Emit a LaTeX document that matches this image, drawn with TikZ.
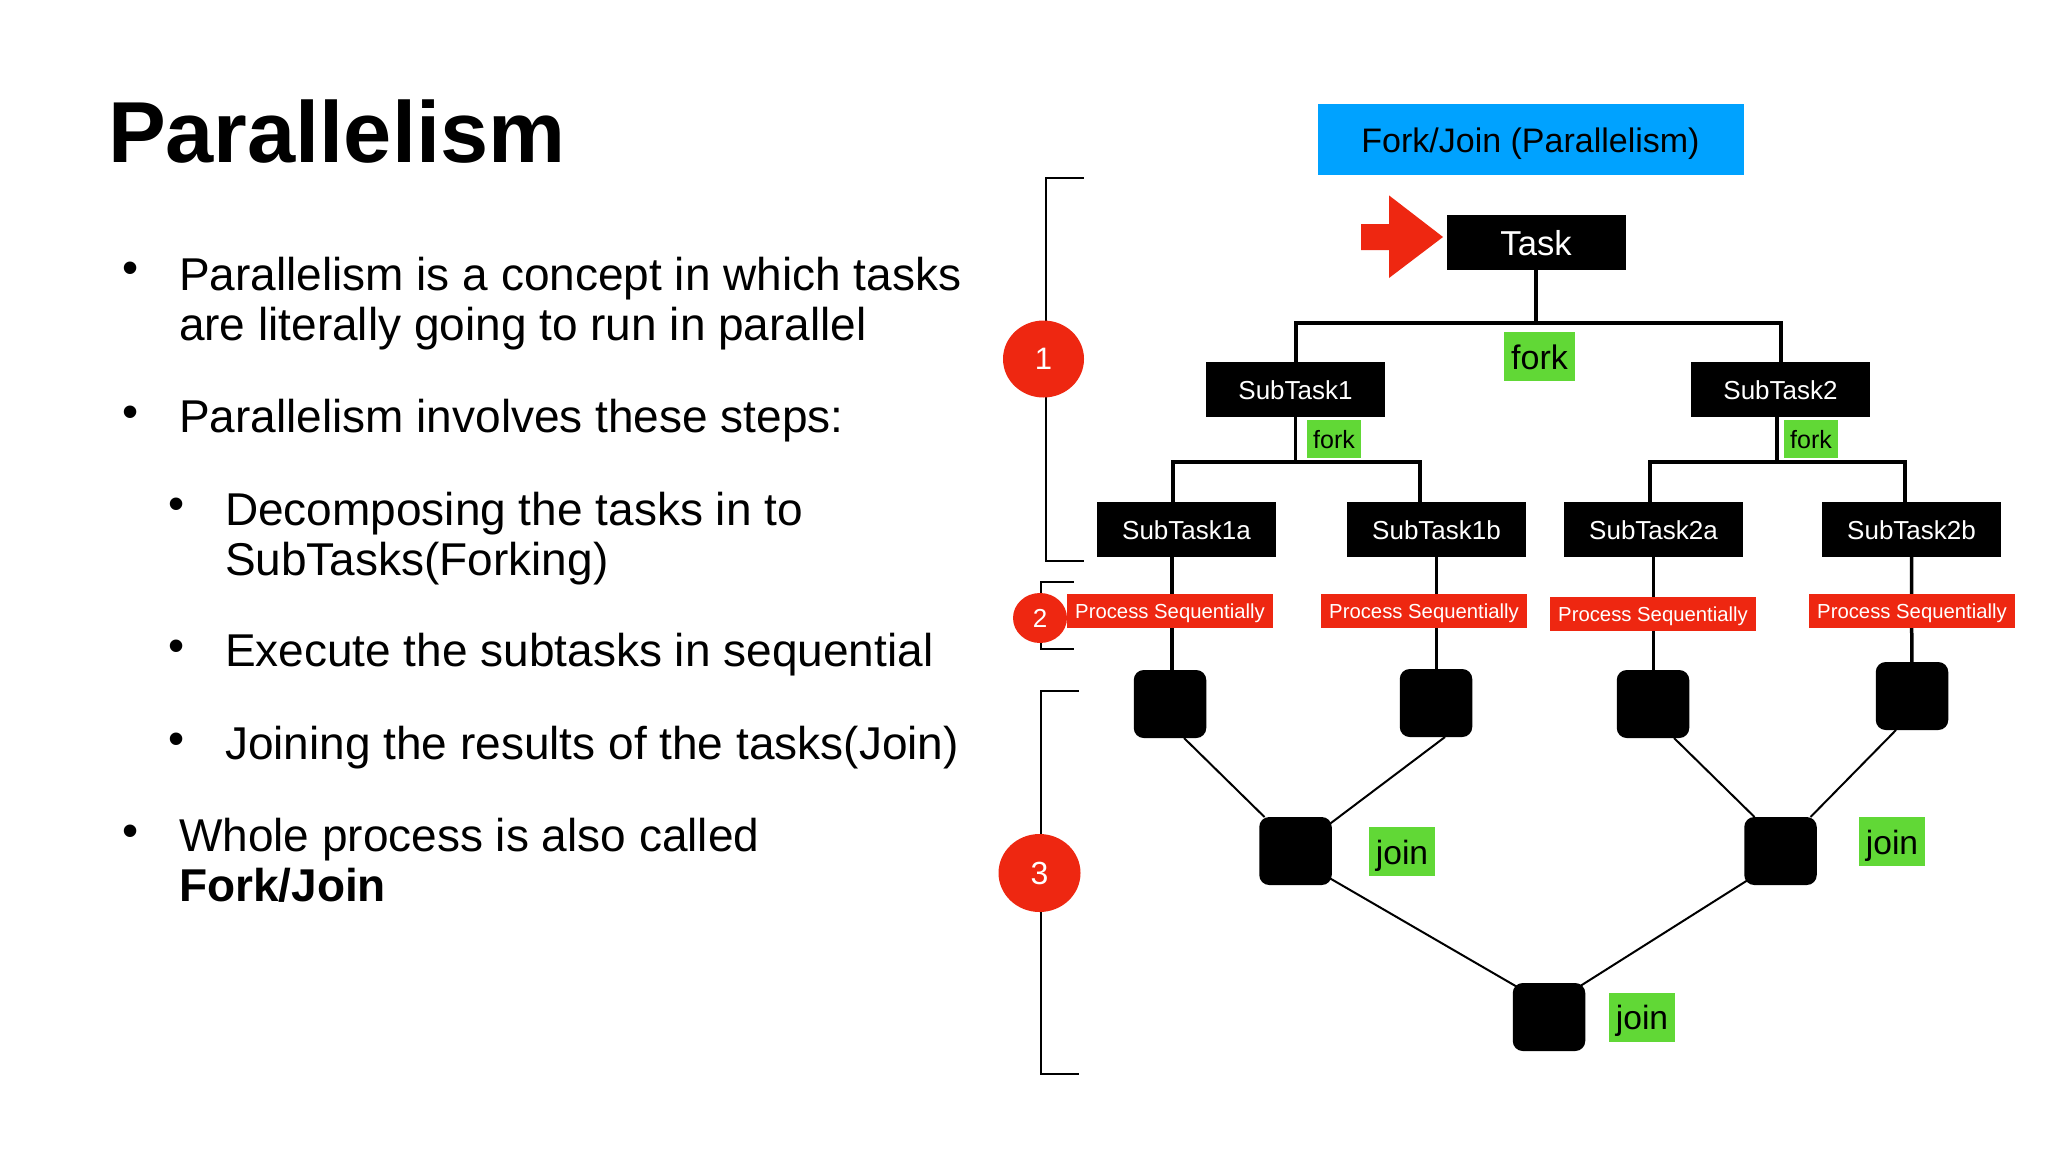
\documentclass[tikz,border=0pt]{standalone}
\usepackage{fontspec}
\setmainfont{Liberation Sans}
\usetikzlibrary{shapes.geometric}
\definecolor{kblue}{HTML}{00A2FF}
\definecolor{kgreen}{HTML}{61D836}
\definecolor{kred}{HTML}{EE2711}
\tikzset{
  every node/.style={inner sep=0pt,outer sep=0pt},
  labelbox/.style={text depth=0pt,align=center},
  taskbox/.style={labelbox,text height=10.1pt,fill=black,text=white,minimum width=89.5pt,minimum height=27.5pt,font=\fontsize{13}{15}\selectfont},
  procbox/.style={labelbox,text height=8.1pt,fill=kred,text=white,minimum width=103pt,minimum height=17pt,font=\fontsize{10.15}{12}\selectfont},
  workbox/.style={fill=black,rounded corners=5pt,minimum width=36.25pt,minimum height=34pt},
  joinbox/.style={labelbox,text height=12.6pt,fill=kgreen,minimum width=33pt,minimum height=24.5pt,font=\fontsize{16.8}{19}\selectfont},
  forkbox/.style={labelbox,text height=9.75pt,fill=kgreen,minimum width=27pt,minimum height=19pt,font=\fontsize{12.5}{15}\selectfont},
  bodytext/.style={anchor=base west,align=left,font=\fontsize{23}{25}\selectfont},
  bullettext/.style={anchor=base,font=\fontsize{23}{25}\selectfont},
  treeline/.style={line width=2pt},
  drop/.style={line width=1.75pt},
  merge/.style={line width=1pt},
  bracketline/.style={line width=1pt},
  numdisc/.style={ellipse,fill=kred,text=white,text depth=0pt},
}
\begin{document}
\begin{tikzpicture}[x=0.5pt,y=-0.5pt]
\useasboundingbox (0,0) rectangle (2048,1152);
\fill[white] (0,0) rectangle (2048,1152);

% Left column
\node[anchor=base west,font=\bfseries\fontsize{43.3}{46}\selectfont] (title) at (108,162) {Parallelism};
\node[bullettext] (b1) at (131,283.5) {•};
\node[bodytext] (t1) at (179,340.8) {Parallelism is a concept in which tasks\\are literally going to run in parallel};
\node[bullettext] (b2) at (131,427) {•};
\node[bodytext] (t2) at (179,432) {Parallelism involves these steps:};
\node[bullettext] (b3) at (177,519) {•};
\node[bodytext] (t3) at (225,575) {Decomposing the tasks in to\\SubTasks(Forking)};
\node[bullettext] (b4) at (177,661) {•};
\node[bodytext] (t4) at (225,666.5) {Execute the subtasks in sequential};
\node[bullettext] (b5) at (177,754) {•};
\node[bodytext] (t5) at (225,759.8) {Joining the results of the tasks(Join)};
\node[bullettext] (b6) at (131,846) {•};
\node[bodytext] (t6) at (179,901.2) {Whole process is also called\\\textbf{Fork/Join}};

% Brackets
\coordinate (b1a) at (1083.5,177.7);
\coordinate (b1b) at (1083.5,561);
\coordinate (b1s) at (1046,177.7);
\coordinate (b2a) at (1073.5,581.7);
\coordinate (b2b) at (1073.5,649.3);
\coordinate (b2s) at (1041.4,581.7);
\coordinate (b3a) at (1079,691.3);
\coordinate (b3b) at (1079,1074.3);
\coordinate (b3s) at (1041.4,691.3);
\draw[bracketline] (b1a) -- (b1s) |- (b1b);
\draw[bracketline] (b2a) -- (b2s) |- (b2b);
\draw[bracketline] (b3a) -- (b3s) |- (b3b);
\node[numdisc,text height=10.85pt,minimum width=40.5pt,minimum height=38.5pt,font=\fontsize{15.5}{18}\selectfont] (n1) at (1043.5,359) {1};
\node[numdisc,text height=9.1pt,minimum width=27pt,minimum height=25pt,font=\fontsize{13}{15}\selectfont] (n2) at (1040,618) {2};
\node[numdisc,text height=11.2pt,minimum width=41pt,minimum height=39pt,font=\fontsize{16}{18}\selectfont] (n3) at (1039.5,873) {3};

% Header
\node[labelbox,text height=12.9pt,fill=kblue,minimum width=213pt,minimum height=35.5pt,font=\fontsize{17}{19}\selectfont] (head) at (1530.5,139.5) {Fork/Join (Parallelism)};

% Tasks
\node[taskbox,text height=13.1pt,font=\fontsize{17.3}{19}\selectfont] (task) at (1536,242.5) {Task};
\node[taskbox] (s1) at (1295.5,389.5) {SubTask1};
\node[taskbox] (s2) at (1780.5,389.5) {SubTask2};
\node[taskbox] (s1a) at (1186.5,529.5) {SubTask1a};
\node[taskbox] (s1b) at (1436.5,529.5) {SubTask1b};
\node[taskbox] (s2a) at (1653.5,529.5) {SubTask2a};
\node[taskbox] (s2b) at (1911.5,529.5) {SubTask2b};

% Entry arrow
\fill[kred] (1361,224) -- (1389,224) -- (1389,195.4) -- (1443,237) -- (1389,278) -- (1389,250) -- (1361,250) -- cycle;

% Work boxes
\node[workbox] (w1) at (1170,704) {};
\node[workbox] (w2) at (1436,703) {};
\node[workbox] (w3) at (1653,704) {};
\node[workbox] (w4) at (1912,696) {};
\node[workbox] (m1) at (1295.5,851) {};
\node[workbox] (m2) at (1780.5,851) {};
\node[workbox] (m3) at (1549,1017) {};

% Fork tree
\coordinate (bus1) at (1536,323);
\coordinate (bus2) at (1295.5,462);
\coordinate (bus3) at (1777,462);
\draw[drop] (task.south) -- (bus1);
\draw[treeline] (s1.north) |- (bus1) -| (s2.north);
\draw[drop] (s1.south) -- (bus2);
\draw[drop] ([xshift=-1.75pt]s2.south) -- (bus3);
\draw[treeline] ([xshift=-6.75pt]s1a.north) |- (bus2) -| ([xshift=-8.25pt]s1b.north);
\draw[treeline] ([xshift=-1.75pt]s2a.north) |- (bus3) -| ([xshift=-3.25pt]s2b.north);

% Sequential drops
\draw[drop] ([xshift=-7.25pt]s1a.south) -- ([xshift=1pt]w1.north);
\draw[drop] (s1b.south) -- ([xshift=.25pt]w2.north);
\draw[drop] (s2a.south) -- ([xshift=.25pt]w3.north);
\draw[drop] (s2b.south) -- ([xshift=-.1pt]w4.north);

% Merge lines
\draw[merge] ([xshift=7pt]w1.south) -- ([xshift=-15.5pt]m1.north);
\draw[merge] ([xshift=4.5pt]w2.south) -- ([xshift=-3.4pt,yshift=-5.25pt]m1.north east);
\draw[merge] ([xshift=10.5pt]w3.south) -- ([xshift=-13pt]m2.north);
\draw[merge] ([xshift=-8pt]w4.south) -- ([xshift=15pt]m2.north);
\draw[merge] ([xshift=-2.9pt,yshift=4.5pt]m1.south east) -- ([xshift=4pt,yshift=-3pt]m3.north west);
\draw[merge] ([xshift=3.4pt,yshift=3.5pt]m2.south west) -- ([xshift=-4.1pt,yshift=-2.5pt]m3.north east);

% Process labels
\node[procbox] (p1) at (1170,610.7) {Process Sequentially};
\node[procbox] (p2) at (1424,610.7) {Process Sequentially};
\node[procbox] (p3) at (1653,613.5) {Process Sequentially};
\node[procbox] (p4) at (1912,610.7) {Process Sequentially};

% Fork labels
\node[labelbox,text height=12.5pt,fill=kgreen,minimum width=35.5pt,minimum height=24.5pt,font=\fontsize{17}{19}\selectfont] (f0) at (1539.5,356.5) {fork};
\node[forkbox] (f1) at (1334,439) {fork};
\node[forkbox] (f2) at (1811,439) {fork};

% Join labels
\node[joinbox] (j1) at (1402,851.5) {join};
\node[joinbox] (j2) at (1892,841.5) {join};
\node[joinbox] (j3) at (1642,1017) {join};
\end{tikzpicture}
\end{document}
